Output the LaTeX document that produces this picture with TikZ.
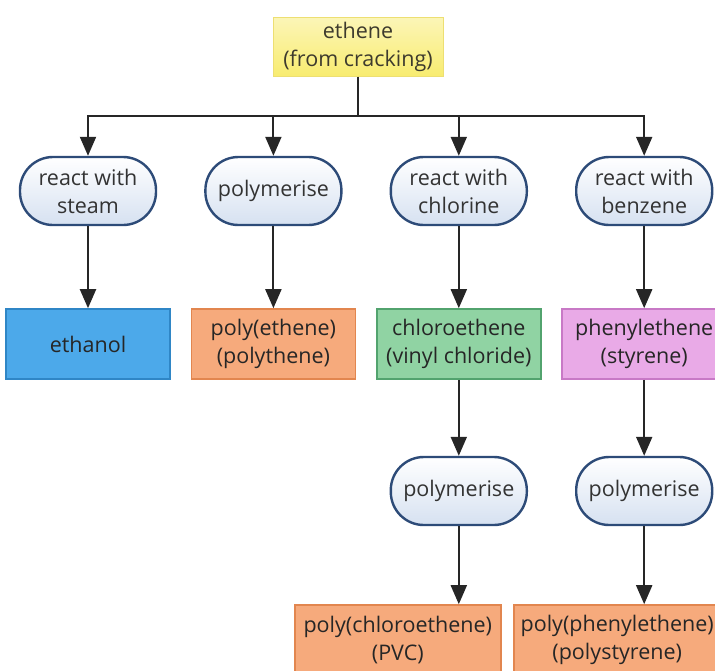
\documentclass[tikz,border=0pt]{standalone}
\usepackage{fontspec}
\setmainfont{Open Sans}
\usepackage{xcolor}
\usetikzlibrary{arrows.meta, positioning}

\definecolor{ethenefill}{HTML}{F8EC70}
\definecolor{etheneedge}{HTML}{EDDF72}
\definecolor{ovaledge}{HTML}{2D4B78}
\definecolor{ovalfill}{HTML}{D6E1F1}
\definecolor{bluefill}{HTML}{4CA9EA}
\definecolor{blueedge}{HTML}{2F86C6}
\definecolor{orangefill}{HTML}{F6AA7C}
\definecolor{orangeedge}{HTML}{E2864F}
\definecolor{greenfill}{HTML}{90D3A3}
\definecolor{greenedge}{HTML}{52A36E}
\definecolor{pinkfill}{HTML}{E9AAE7}
\definecolor{pinkedge}{HTML}{C879C6}

\newcommand{\chemfont}{\fontsize{21.5}{28}\selectfont}

\begin{document}
\begin{tikzpicture}[
    x=1pt, y=1pt,
    >={Triangle[length=19pt, width=16pt]},
    node distance=82pt and 47pt,
    feedbox/.style={draw=etheneedge, line width=1pt, top color=ethenefill!50!white, bottom color=ethenefill, minimum width=170pt, minimum height=59pt, align=center, text=black!75!olive, font=\chemfont},
    stepoval/.style={draw=ovaledge, line width=2.4pt, rounded corners=33pt, minimum width=136pt, minimum height=68pt, top color=white, bottom color=ovalfill, align=center, text=black!80, font=\chemfont},
    productbox/.style={draw=#1edge, line width=1.6pt, fill=#1fill, minimum width=164pt, minimum height=70pt, align=center, text=black!85, font=\chemfont},
    flowarrow/.style={->, line width=2pt, draw=black!85}
]
\clip (0,-670) rectangle (715,0);

% --- Starting material ---
\node[feedbox] (ethene) at (358,-46.5) {ethene\\(from cracking)};

% --- First reaction steps ---
\node[stepoval] (steam) at (88,-191) {react with\\steam};
\node[stepoval, right=of steam] (polyA) {polymerise};
\node[stepoval, right=of polyA] (chlorine) {react with\\chlorine};
\node[stepoval, right=of chlorine] (benzene) {react with\\benzene};

% --- First products ---
\node[productbox=blue, below=of steam] (ethanol) {ethanol};
\node[productbox=orange, below=of polyA] (polythene) {poly(ethene)\\(polythene)};
\node[productbox=green, below=of chlorine] (vinyl) {chloroethene\\(vinyl chloride)};
\node[productbox=pink, below=of benzene] (styrene) {phenylethene\\(styrene)};

% --- Second polymerisation ---
\node[stepoval, below=76pt of vinyl] (polyB) {polymerise};
\node[stepoval, below=76pt of styrene] (polyC) {polymerise};

\node[productbox=orange, minimum width=206pt, below=78pt of polyB, xshift=-61pt] (pvc) {poly(chloroethene)\\(PVC)};
\node[productbox=orange, minimum width=206pt, below=78pt of polyC, xshift=-27pt] (polystyrene) {poly(phenylethene)\\(polystyrene)};

% --- Connectors ---
\draw[line width=2pt, draw=black!85] (ethene.south) -- ++(0,-39) coordinate (hub);
\foreach \dest in {steam, polyA, chlorine, benzene}
  \draw[flowarrow] (hub) -| (\dest.north);

\draw[flowarrow] (steam) -- (ethanol);
\draw[flowarrow] (polyA) -- (polythene);
\draw[flowarrow] (chlorine) -- (vinyl);
\draw[flowarrow] (benzene) -- (benzene |- styrene.north);

\draw[flowarrow] (vinyl.south) -- (polyB.north);
\draw[flowarrow] (styrene.south -| polyC) -- (polyC.north);
\draw[flowarrow] (polyB.south) -- (polyB.south |- pvc.north);
\draw[flowarrow] (polyC.south) -- (polyC.south |- polystyrene.north);

\end{tikzpicture}
\end{document}
